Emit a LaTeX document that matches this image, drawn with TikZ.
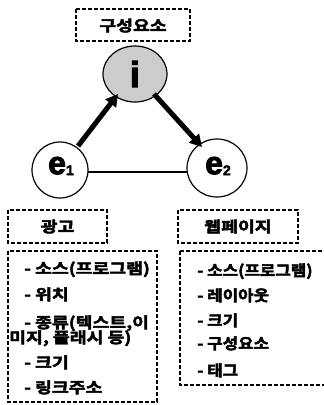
\documentclass[tikz,border=0pt]{standalone}
\usepackage{fontspec}
\setmainfont{Liberation Sans}
\newfontfamily\kr[FakeStretch=1.22,FakeBold=3]{Noto Sans CJK KR Bold}
\newfontfamily\krn[FakeStretch=1.12,FakeBold=3]{Noto Sans CJK KR Bold}
\newfontfamily\lat[FakeBold=3]{Liberation Sans Bold}
\usetikzlibrary{arrows.meta}
\begin{document}
\begin{tikzpicture}[x=1pt,y=-1pt,
  dbox/.style={draw,line width=1.5pt,dash pattern=on 4pt off 2pt},
  ktext/.style={font=\kr\fontsize{15}{17}\selectfont,anchor=base west,inner sep=0pt},
  rtext/.style={font=\krn\fontsize{15}{17}\selectfont,anchor=base west,inner sep=0pt},
  bigarrow/.style={line width=5pt,-{Triangle[length=12pt,width=13pt]}}]
\useasboundingbox (0,0) rectangle (324,405);
% title
\draw[dbox] (76,9) rectangle (190,41);
\node[font=\kr\fontsize{15}{17}\selectfont] (title) at (133,25.5) {구성요소};
% circles
\fill[gray!40,draw=black,line width=1.2pt] (135,74) ellipse [x radius=32,y radius=28];
\node[font=\lat\fontsize{36}{36}\selectfont] (i) at (135,74) {i};
\draw[line width=1.2pt,fill=white] (60,170) circle [radius=28];
\draw[line width=1.2pt,fill=white] (217,168) ellipse [x radius=30,y radius=29];
\node[font=\lat\fontsize{32}{32}\selectfont,inner sep=0pt] (e1) at (61,166) {e\raisebox{-1pt}{\fontsize{14}{14}\selectfont 1}};
\node[font=\lat\fontsize{32}{32}\selectfont,inner sep=0pt] (e2) at (218,166) {e\raisebox{-1pt}{\fontsize{14}{14}\selectfont 2}};
% arrows
\coordinate (a1s) at (78,146);
\coordinate (a1e) at (118,94);
\coordinate (a2s) at (154,94);
\coordinate (a2e) at (202,147);
\draw[bigarrow] (a1s) -- (a1e);
\draw[bigarrow] (a2s) -- (a2e);
\coordinate (l1) at (88,172);
\coordinate (l2) at (187,172);
\draw[line width=2.2pt] (l1) -- (l2);
% left boxes
\draw[dbox] (8,210) rectangle (107,243);
\node[font=\kr\fontsize{15}{17}\selectfont] (ad) at (57.5,226.5) {광고};
\draw[dbox] (8,251) rectangle (157,402);
\node[ktext] (l1a) at (24,274) {- 소스(프로그램)};
\node[ktext] (l1b) at (24,300) {- 위치};
\node[ktext] (l1c) at (24,328) {- 종류(텍스트,이};
\node[ktext] (l1d) at (9,343) {미지, 플래시 등)};
\node[ktext] (l1e) at (24,368) {- 크기};
\node[ktext] (l1f) at (24,393) {- 링크주소};
% right boxes
\draw[dbox] (178,210) rectangle (298,243);
\node[font=\kr\fontsize{15}{17}\selectfont] (wp) at (238,226.5) {웹페이지};
\draw[dbox] (180,251) -- (330,251);
\draw[dbox] (180,251) -- (180,385) -- (330,385);
\node[rtext] (r1a) at (197,276) {- 소스(프로그램)};
\node[rtext] (r1b) at (197,301) {- 레이아웃};
\node[rtext] (r1c) at (197,326) {- 크기};
\node[rtext] (r1d) at (197,349) {- 구성요소};
\node[rtext] (r1e) at (197,376) {- 태그};
\end{tikzpicture}
\end{document}
